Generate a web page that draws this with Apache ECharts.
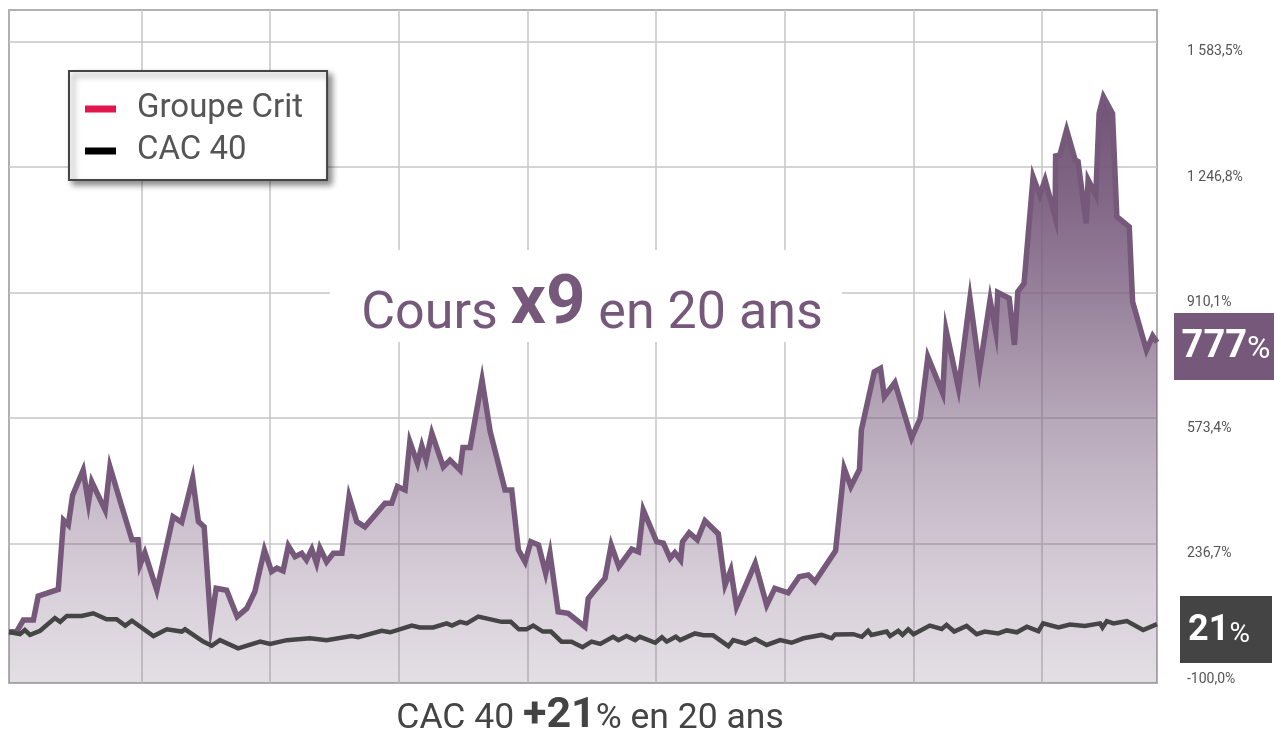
<!DOCTYPE html>
<html lang="fr">
<head>
<meta charset="utf-8">
<title>Groupe Crit vs CAC 40</title>
<script src="https://cdn.jsdelivr.net/npm/echarts@6/dist/echarts.min.js"></script>
<style>
  html, body { margin: 0; padding: 0; background: #fff; }
  #chart { width: 1274px; height: 737px; }
</style>
</head>
<body>
<div id="chart"></div>
<script>
// performance cumulée en %, abscisse en mois depuis le début (0 à 240)
const critMois = [0, 1.6, 3.0, 5.1, 6.1, 10.3, 11.4, 12.4, 13.3, 15.5, 16.6, 17.3, 20.1, 21.1, 23.6, 25.7, 27.0, 27.4, 28.4, 30.9,
  34.3, 36.1, 38.4, 39.6, 40.8, 42.2, 43.3, 45.5, 47.7, 49.7, 51.4, 53.4, 54.9, 56.0, 57.3, 58.4, 59.8, 61.2, 62.2, 63.3,
  64.3, 65.0, 66.4, 67.8, 69.6, 71.1, 72.7, 74.4, 78.6, 80.0, 81.2, 82.8, 83.8, 85.4, 86.3, 87.2, 88.4, 90.8, 92.2, 94.3,
  94.9, 96.4, 98.9, 100.6, 103.7, 105.1, 106.5, 107.9, 109.1, 110.7, 112.2, 113.1, 114.8, 116.9, 120.4, 121.1, 122.5, 124.6, 125.9, 127.5,
  130.2, 131.6, 132.6, 135.4, 136.8, 138.2, 139.2, 140.4, 140.8, 142.2, 143.9, 145.5, 148.3, 149.7, 150.9, 152.1, 156.0, 158.4, 160.1, 162.9,
  165.2, 167.1, 168.5, 172.8, 174.6, 176.0, 177.8, 178.2, 180.9, 182.2, 183.0, 185.2, 188.7, 190.5, 192.1, 195.2, 195.9, 198.5, 200.9, 202.9,
  205.1, 206.3, 206.7, 209.1, 210.2, 210.9, 212.2, 214.1, 215.5, 216.6, 218.7, 218.8, 219.7, 221.1, 222.9, 223.5, 225.2, 225.6, 227.2, 227.9,
  228.8, 230.7, 231.6, 234.2, 234.9, 237.8, 239.1, 240];
const critValeurs = [0, 1, 32, 32, 96, 114, 300, 287, 367, 434, 346, 403, 327, 443, 336, 247, 247, 180, 212, 112,
  309, 294, 412, 296, 282, 19, 117, 112, 41, 63, 108, 220, 162, 171, 164, 231, 202, 211, 193, 222,
  184, 225, 188, 211, 211, 363, 296, 282, 345, 345, 390, 381, 510, 452, 499, 461, 533, 443, 461, 434,
  495, 495, 676, 537, 381, 381, 220, 188, 242, 233, 157, 211, 54, 50, 14, 90, 112, 144, 233, 175,
  222, 215, 327, 242, 238, 198, 213, 193, 242, 266, 247, 298, 263, 126, 166, 68, 184, 72, 117, 105,
  148, 153, 135, 218, 439, 390, 436, 542, 698, 707, 631, 669, 520, 573, 738, 640, 810, 654, 895, 703,
  891, 806, 911, 895, 770, 913, 935, 1221, 1172, 1213, 1114, 1277, 1280, 1347, 1266, 1262, 1096, 1213, 1172, 1391,
  1436, 1391, 1114, 1087, 886, 756, 794, 777];

const cacMois = [0, 2.3, 3.3, 4.4, 6.5, 9.6, 10.7, 12.1, 15.2, 17.6, 20.4, 22.5, 24.3, 25.7, 30.2, 33.0, 36.1, 36.8, 40.6, 42.4,
  44.1, 47.9, 52.5, 54.6, 58.1, 62.9, 66.4, 71.6, 73.0, 77.9, 79.7, 84.2, 85.9, 88.7, 91.5, 92.6, 94.3, 95.7, 98.1, 103.0,
  104.9, 106.6, 108.2, 109.6, 111.6, 113.3, 115.5, 117.6, 119.9, 121.8, 123.6, 126.3, 127.4, 129.1, 130.9, 131.9, 135.1, 136.5, 137.5, 139.4,
  140.3, 143.4, 145.2, 147.2, 150.4, 151.4, 153.9, 156.0, 158.4, 161.2, 163.6, 166.1, 169.9, 172.0, 172.7, 176.5, 178.3, 179.6, 180.3, 183.5,
  184.2, 185.9, 186.8, 188.0, 189.1, 192.5, 195.0, 196.0, 197.6, 200.2, 202.3, 204.0, 206.8, 208.6, 210.7, 212.8, 215.2, 216.2, 219.4, 221.8,
  224.9, 228.1, 228.6, 229.5, 230.9, 233.7, 237.1, 240];
const cacValeurs = [0, -6, 5, -8, 3, 37, 27, 43, 43, 50, 34, 34, 17, 30, -11, 7, 1, 7, -26, -37,
  -22, -44, -26, -32, -22, -17, -22, -11, -14, 3, -1, 17, 12, 12, 23, 17, 27, 23, 41, 27,
  27, 7, 7, 17, 1, 1, -26, -26, -41, -26, -32, -13, -22, -11, -22, -13, -29, -14, -26, -13,
  -22, -4, -9, -9, -38, -22, -31, -19, -35, -22, -29, -17, -8, -17, -7, -6, -13, 3, -8, 1,
  -11, 3, -8, 7, -6, 17, 8, 19, 1, 16, -6, 1, -4, 4, -1, 14, 2, 23, 12, 20,
  16, 23, 12, 29, 23, 29, 5, 21];

// graduations de l'axe des valeurs (à droite)
const yLabels = [-100, 236.7, 573.4, 910.1, 1246.8, 1583.5];
const yGrid = [236.7, 573.4, 910.1, 1246.8, 1583.5];
// repères verticaux (en mois)
const xGrid = [27.7, 54.6, 81.5, 108.4, 135.3, 162.2, 189.1, 215.9];

const VIOLET = '#75587a';

function pct(v) {
  const p = v.toFixed(1).split('.');
  return p[0].replace(/\B(?=(\d{3})+(?!\d))/g, ' ') + ',' + p[1] + '%';
}

const chart = echarts.init(document.getElementById('chart'), null, { renderer: 'canvas' });

// dégradé vertical du remplissage (en pixels, du sommet du pic au bas du graphique)
const degrade = new echarts.graphic.LinearGradient(0, 97, 0, 683, [
  { offset: 0, color: 'rgba(112,84,118,1)' },
  { offset: 0.18, color: 'rgba(117,88,122,0.9)' },
  { offset: 0.35, color: 'rgba(117,88,122,0.74)' },
  { offset: 0.55, color: 'rgba(117,88,122,0.52)' },
  { offset: 0.69, color: 'rgba(117,88,122,0.4)' },
  { offset: 0.86, color: 'rgba(117,88,122,0.27)' },
  { offset: 1, color: 'rgba(117,88,122,0.2)' }
], true);

const option = {
  animation: false,
  backgroundColor: '#fff',
  textStyle: { fontFamily: 'Roboto' },
  grid: {
    left: 9, right: 117, top: 10, bottom: 54,
    containLabel: false,
    outerBoundsMode: 'none',
    show: true,
    borderColor: '#b0b0b0',
    borderWidth: 2,
    backgroundColor: 'transparent'
  },
  legend: {
    orient: 'vertical',
    left: 69, top: 71,
    padding: [21, 24, 12, 16],
    itemGap: 8,
    icon: 'rect',
    itemWidth: 31,
    itemHeight: 7,
    backgroundColor: '#fff',
    borderColor: '#444',
    borderWidth: 2,
    shadowColor: 'rgba(0,0,0,0.45)',
    shadowBlur: 6,
    shadowOffsetX: 4,
    shadowOffsetY: 4,
    selectedMode: false,
    textStyle: { fontSize: 33, lineHeight: 34, color: '#555', fontFamily: 'Roboto', padding: [0, 0, 0, 16] },
    data: [
      { name: 'Groupe Crit', itemStyle: { color: '#e0164c', borderWidth: 0 } },
      { name: 'CAC 40', itemStyle: { color: '#000', borderWidth: 0 } }
    ]
  },
  xAxis: {
    type: 'value',
    min: 0,
    max: 240,
    axisLine: { show: false },
    axisTick: { show: false, customValues: xGrid },
    axisLabel: { show: false, customValues: xGrid },
    splitLine: { show: true, lineStyle: { color: '#c6c6c6', width: 1.5 } }
  },
  yAxis: {
    type: 'value',
    position: 'right',
    min: -137,
    max: 1668.6,
    axisLine: { show: false },
    axisTick: { show: false, customValues: yGrid },
    axisLabel: {
      customValues: yLabels,
      margin: 30,
      fontSize: 14,
      color: '#555',
      fontFamily: 'Roboto',
      verticalAlign: 'top',
      padding: [3, 0, 0, 0],
      formatter: pct
    },
    splitLine: { show: true, lineStyle: { color: '#c6c6c6', width: 1.5 } }
  },
  series: [
    {
      name: 'Groupe Crit',
      type: 'line',
      symbol: 'none',
      z: 3,
      data: critMois.map((m, i) => [m, critValeurs[i]]),
      lineStyle: { color: VIOLET, width: 5.5, join: 'miter' },
      itemStyle: { color: VIOLET },
      areaStyle: { origin: 'start', color: degrade, opacity: 1 }
    },
    {
      name: 'CAC 40',
      type: 'line',
      symbol: 'none',
      z: 4,
      data: cacMois.map((m, i) => [m, cacValeurs[i]]),
      lineStyle: { color: '#454545', width: 4.5, join: 'miter' },
      itemStyle: { color: '#454545' }
    }
  ],
  graphic: [
    { type: 'rect', z: 1, shape: { x: 330, y: 250, width: 512, height: 92 }, style: { fill: '#fff' } },
    {
      type: 'text', z: 10, x: 592, y: 306,
      style: {
        text: '{a|Cours }{b|x9}{a| en 20 ans}',
        align: 'center', verticalAlign: 'middle',
        rich: {
          a: { fontSize: 52, fontFamily: 'Roboto', fill: VIOLET, verticalAlign: 'bottom' },
          b: { fontSize: 69, fontFamily: 'Roboto', fontWeight: 'bold', fill: VIOLET, verticalAlign: 'bottom' }
        }
      }
    },
    {
      type: 'text', z: 10, x: 590, y: 716,
      style: {
        text: '{a|CAC 40 }{b|+21}{a|% en 20 ans}',
        align: 'center', verticalAlign: 'middle',
        rich: {
          a: { fontSize: 35.5, fontFamily: 'Roboto', fill: '#444', verticalAlign: 'bottom' },
          b: { fontSize: 43, fontFamily: 'Roboto', fontWeight: 'bold', fill: '#444', verticalAlign: 'bottom' }
        }
      }
    },
    { type: 'rect', z: 10, shape: { x: 1174, y: 313, width: 100, height: 67 }, style: { fill: VIOLET } },
    {
      type: 'text', z: 11, x: 1226, y: 347,
      style: {
        text: '{b|777}{p|%}',
        align: 'center', verticalAlign: 'middle',
        rich: {
          b: { fontSize: 38, fontFamily: 'Roboto', fontWeight: 'bold', fill: '#fff', verticalAlign: 'bottom' },
          p: { fontSize: 32, fontFamily: 'Roboto', fill: '#fff', verticalAlign: 'bottom' }
        }
      }
    },
    { type: 'rect', z: 10, shape: { x: 1180, y: 596, width: 92, height: 67 }, style: { fill: '#444' } },
    {
      type: 'text', z: 11, x: 1219, y: 631,
      style: {
        text: '{b|21}{p|%}',
        align: 'center', verticalAlign: 'middle',
        rich: {
          b: { fontSize: 36, fontFamily: 'Roboto', fontWeight: 'bold', fill: '#fff', verticalAlign: 'bottom' },
          p: { fontSize: 28, fontFamily: 'Roboto', fill: '#fff', verticalAlign: 'bottom' }
        }
      }
    }
  ]
};

chart.setOption(option);
</script>
</body>
</html>
